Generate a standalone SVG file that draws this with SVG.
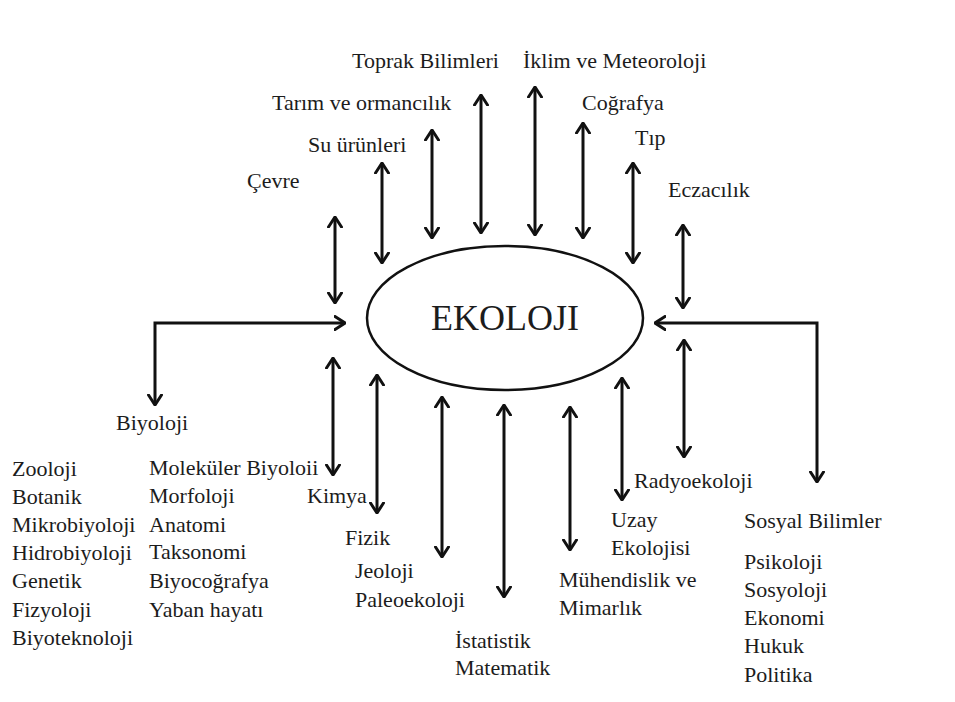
<svg xmlns="http://www.w3.org/2000/svg" width="955" height="702" viewBox="0 0 955 702">
<style>
text{font-family:"Liberation Serif","Times New Roman",serif;font-size:22px;fill:#1c1c1c}
.c{fill:none;stroke:#111;stroke-width:3}
.e{fill:#fff;stroke:#111;stroke-width:2.5}
.big{font-size:36px}
</style>
<defs>
<marker id="ah" viewBox="0 0 12 16" refX="11" refY="8" markerWidth="12" markerHeight="16" markerUnits="userSpaceOnUse" orient="auto-start-reverse">
<path d="M1,1.5 L11,8 L1,14.5" fill="none" stroke="#111" stroke-width="3" stroke-linejoin="miter" stroke-linecap="round"/>
</marker>
</defs>
<rect width="955" height="702" fill="#fff"/>
<g id="connectors" class="c" marker-start="url(#ah)" marker-end="url(#ah)">
<line x1="335" y1="217" x2="335" y2="303"/>
<line x1="382" y1="163" x2="382" y2="263"/>
<line x1="432" y1="130" x2="432" y2="238"/>
<line x1="481" y1="95" x2="481" y2="233"/>
<line x1="535" y1="87" x2="535" y2="235"/>
<line x1="583" y1="123" x2="583" y2="238"/>
<line x1="633" y1="163" x2="633" y2="263"/>
<line x1="683" y1="225" x2="683" y2="308"/>
<path d="M345,323 L155,323 L155,405"/>
<path d="M655,323 L817,323 L817,482"/>
<line x1="333" y1="358" x2="333" y2="475"/>
<line x1="377" y1="375" x2="377" y2="513"/>
<line x1="442" y1="397" x2="442" y2="557"/>
<line x1="504" y1="405" x2="504" y2="597"/>
<line x1="570" y1="407" x2="570" y2="550"/>
<line x1="622" y1="378" x2="622" y2="500"/>
<line x1="684" y1="340" x2="684" y2="457"/>
</g>
<g id="ekoloji"><ellipse class="e" cx="505" cy="318" rx="138" ry="72"/><text class="big" x="505" y="330" text-anchor="middle">EKOLOJI</text></g>
<g id="toprak"><text x="352" y="68">Toprak Bilimleri</text></g>
<g id="iklim"><text x="523" y="68">İklim ve Meteoroloji</text></g>
<g id="tarim"><text x="272" y="110">Tarım ve ormancılık</text></g>
<g id="cografya"><text x="582" y="110">Coğrafya</text></g>
<g id="su"><text x="308" y="152">Su ürünleri</text></g>
<g id="tip"><text x="635" y="145">Tıp</text></g>
<g id="cevre"><text x="247" y="188">Çevre</text></g>
<g id="eczacilik"><text x="668" y="197">Eczacılık</text></g>
<g id="biyoloji"><text x="116" y="430">Biyoloji</text></g>
<g id="biyoloji-list1">
<text x="12" y="476">Zooloji</text>
<text x="12" y="504">Botanik</text>
<text x="12" y="532">Mikrobiyoloji</text>
<text x="12" y="560">Hidrobiyoloji</text>
<text x="12" y="588">Genetik</text>
<text x="12" y="617">Fizyoloji</text>
<text x="12" y="645">Biyoteknoloji</text>
</g>
<g id="biyoloji-list2">
<text x="149" y="475">Moleküler Biyoloii</text>
<text x="149" y="503">Morfoloji</text>
<text x="149" y="532">Anatomi</text>
<text x="149" y="559">Taksonomi</text>
<text x="149" y="588">Biyocoğrafya</text>
<text x="149" y="617">Yaban hayatı</text>
</g>
<g id="kimya"><text x="307" y="503">Kimya</text></g>
<g id="fizik"><text x="345" y="545">Fizik</text></g>
<g id="jeoloji"><text x="355" y="578">Jeoloji</text><text x="355" y="607">Paleoekoloji</text></g>
<g id="istatistik"><text x="455" y="648">İstatistik</text><text x="455" y="675">Matematik</text></g>
<g id="muhendislik"><text x="559" y="587">Mühendislik ve</text><text x="559" y="615">Mimarlık</text></g>
<g id="uzay"><text x="611" y="527">Uzay</text><text x="611" y="555">Ekolojisi</text></g>
<g id="radyoekoloji"><text x="634" y="488">Radyoekoloji</text></g>
<g id="sosyal"><text x="744" y="528">Sosyal Bilimler</text>
<text x="744" y="569">Psikoloji</text>
<text x="744" y="597">Sosyoloji</text>
<text x="744" y="625">Ekonomi</text>
<text x="744" y="653">Hukuk</text>
<text x="744" y="682">Politika</text>
</g>
</svg>
